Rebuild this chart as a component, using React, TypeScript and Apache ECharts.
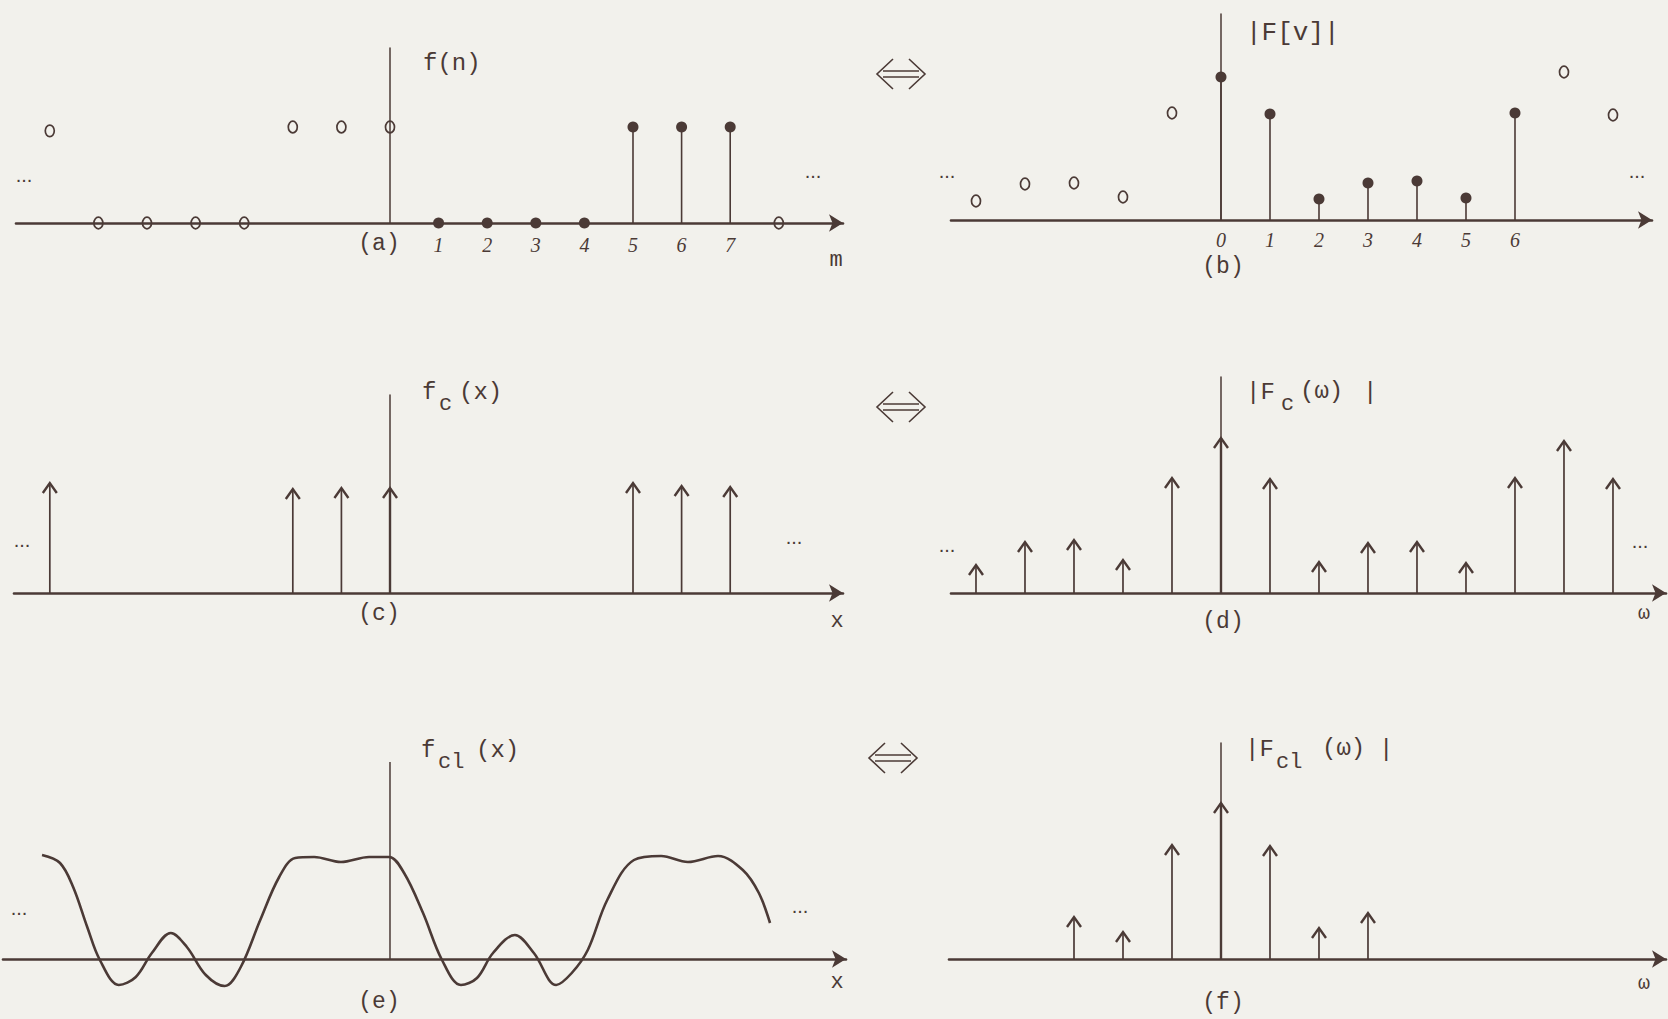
import React, { useEffect, useRef } from 'react';
import * as echarts from 'echarts';

const INK = '#4b3a36';
const BG = '#f2f1ec';
const MONO = 'Liberation Mono';

// (a) f(n): sample index, value, filled(1)/open(0)
const aN = [-7, -6, -5, -4, -3, -2, -1, 0, 1, 2, 3, 4, 5, 6, 7, 8];
const aVal = [0.96, 0, 0, 0, 0, 1, 1, 1, 0, 0, 0, 0, 1, 1, 1, 0];
const aFilled = [0, 0, 0, 0, 0, 0, 0, 0, 1, 1, 1, 1, 1, 1, 1, 0];
const aTicks = [1, 2, 3, 4, 5, 6, 7];

// (b) |F[v]|
const bN = [-5, -4, -3, -2, -1, 0, 1, 2, 3, 4, 5, 6, 7, 8];
const bVal = [0.19, 0.36, 0.37, 0.23, 1.07, 1.43, 1.06, 0.21, 0.37, 0.39, 0.22, 1.07, 1.48, 1.05];
const bFilled = [0, 0, 0, 0, 0, 1, 1, 1, 1, 1, 1, 1, 0, 0];
const bTicks = [0, 1, 2, 3, 4, 5, 6];

// (c) fc(x) impulses
const cX = [-7, -2, -1, 0, 5, 6, 7];
const cVal = [1.1, 1.04, 1.05, 1.05, 1.1, 1.07, 1.06];

// (d) |Fc(w)| impulses
const dX = [-5, -4, -3, -2, -1, 0, 1, 2, 3, 4, 5, 6, 7, 8];
const dVal = [0.28, 0.51, 0.53, 0.33, 1.15, 1.55, 1.14, 0.31, 0.5, 0.51, 0.3, 1.15, 1.52, 1.14];

// (e) fcl(x) curve
const eX = [-7.16, -6.79, -6.52, -6.23, -5.97, -5.58, -5.23, -4.9, -4.51, -4.18, -3.79, -3.4, -3.07, -2.67, -2.28, -1.95, -1.56, -1.01, -0.43, -0.02, 0.29, 0.68, 1.07, 1.46, 1.79, 2.12, 2.57, 2.96, 3.42, 3.74, 4.07, 4.47, 5.02, 5.58, 6.13, 6.75, 7.26, 7.59, 7.82];
const eY = [1.04, 0.96, 0.72, 0.32, -0.01, -0.26, -0.18, 0.06, 0.26, 0.12, -0.16, -0.27, -0.08, 0.39, 0.82, 1.01, 1.02, 0.97, 1.02, 1.02, 0.86, 0.46, -0.01, -0.26, -0.19, 0.06, 0.24, 0.06, -0.26, -0.14, 0.09, 0.59, 0.99, 1.03, 0.97, 1.03, 0.89, 0.66, 0.36];

// (f) |Fcl(w)| impulses
const fX = [-3, -2, -1, 0, 1, 2, 3];
const fVal = [0.42, 0.27, 1.14, 1.56, 1.13, 0.31, 0.46];

// layout of the six panels (pixels) and their axis ranges
const panels = [
  { left: 16, top: 48, width: 827, height: 175, xMin: -7.695, xMax: 9.321, yMin: 0, yMax: 1.823 },
  { left: 951, top: 14, width: 701, height: 206, xMin: -5.51, xMax: 8.796, yMin: 0, yMax: 2.06 },
  { left: 14, top: 395, width: 829, height: 198, xMin: -7.737, xMax: 9.321, yMin: 0, yMax: 1.98 },
  { left: 951, top: 377, width: 715, height: 216, xMin: -5.51, xMax: 9.082, yMin: 0, yMax: 2.16 },
  { left: 3, top: 762, width: 843, height: 238, xMin: -7.963, xMax: 9.383, yMin: -0.41, yMax: 1.97 },
  { left: 949, top: 743, width: 717, height: 216, xMin: -5.551, xMax: 9.082, yMin: 0, yMax: 2.16 },
];

const stemItem = (params: any, api: any) => {
  const x = api.value(0);
  const v = api.value(1);
  const filled = api.value(2);
  const p0 = api.coord([x, 0]);
  const p1 = api.coord([x, v]);
  const children: any[] = [];
  if (filled && v > 0) {
    children.push({ type: 'line', shape: { x1: p0[0], y1: p0[1], x2: p1[0], y2: p1[1] }, style: { stroke: INK, lineWidth: 1.6 } });
  }
  if (filled) {
    children.push({ type: 'circle', shape: { cx: p1[0], cy: p1[1], r: 5.5 }, style: { fill: INK } });
  } else {
    children.push({ type: 'ellipse', shape: { cx: p1[0], cy: p1[1], rx: 4.5, ry: 5.8 }, style: { fill: 'none', stroke: INK, lineWidth: 1.7 } });
  }
  return { type: 'group', children };
};

const arrowItem = (params: any, api: any) => {
  const x = api.value(0);
  const v = api.value(1);
  const p0 = api.coord([x, 0]);
  const p1 = api.coord([x, v]);
  return {
    type: 'group',
    children: [
      { type: 'line', shape: { x1: p0[0], y1: p0[1], x2: p1[0], y2: p1[1] }, style: { stroke: INK, lineWidth: x === 0 ? 2.4 : 1.7 } },
      {
        type: 'polyline',
        shape: { points: [[p1[0] - 7, p1[1] + 10], [p1[0], p1[1]], [p1[0] + 7, p1[1] + 10]] },
        style: { stroke: INK, lineWidth: 2.4, fill: null },
      },
    ],
  };
};

const txt = (text: string, x: number, y: number, fontSize = 24, align = 'left', extra: any = {}) => ({
  type: 'text',
  x,
  y,
  style: { text, fill: INK, fontSize, fontFamily: MONO, align, verticalAlign: 'middle', ...extra },
});

const dots = (x: number, y: number) => txt('...', x, y, 20, 'center', { fontFamily: 'Liberation Sans' });

const dblArrow = (cx: number, cy: number) => ({
  type: 'group',
  x: cx,
  y: cy,
  children: [
    { type: 'polyline', shape: { points: [[-8, -15], [-24, 0], [-8, 15]] }, style: { stroke: INK, lineWidth: 1.6, fill: null } },
    { type: 'polyline', shape: { points: [[8, -15], [24, 0], [8, 15]] }, style: { stroke: INK, lineWidth: 1.6, fill: null } },
    { type: 'line', shape: { x1: -18, y1: -3, x2: 18, y2: -3 }, style: { stroke: INK, lineWidth: 1.6 } },
    { type: 'line', shape: { x1: -18, y1: 3, x2: 18, y2: 3 }, style: { stroke: INK, lineWidth: 1.6 } },
  ],
});

export default function App() {
  const ref = useRef<HTMLDivElement>(null);
  useEffect(() => {
    if (!ref.current) return;
    const chart = echarts.init(ref.current, null, { renderer: 'svg' });
    const tickLabel = (vals: number[], margin: number) => ({
      show: true,
      customValues: vals,
      margin,
      color: INK,
      fontSize: 20,
      fontStyle: 'italic',
      fontFamily: 'Liberation Serif',
      formatter: (v: number) => String(v),
    });
    const option: any = {
      animation: false,
      backgroundColor: BG,
      grid: panels.map((p) => ({ left: p.left, top: p.top, width: p.width, height: p.height, containLabel: false })),
      xAxis: panels.map((p, i) => ({
        type: 'value',
        gridIndex: i,
        min: p.xMin,
        max: p.xMax,
        axisLine: { show: true, onZero: true, symbol: ['none', 'arrow'], symbolSize: [13, 14], lineStyle: { color: INK, width: 2.6 } },
        axisTick: { show: false },
        splitLine: { show: false },
        axisLabel: i === 0 ? tickLabel(aTicks, 12) : i === 1 ? tickLabel(bTicks, 10) : { show: false },
      })),
      yAxis: panels.map((p, i) => ({
        type: 'value',
        gridIndex: i,
        min: p.yMin,
        max: p.yMax,
        axisLine: { show: i !== 4, onZero: true, lineStyle: { color: INK, width: 1.5 } },
        axisTick: { show: false },
        splitLine: { show: false },
        axisLabel: { show: false },
      })),
      series: [
        { type: 'custom', name: 'f(n)', xAxisIndex: 0, yAxisIndex: 0, clip: false, renderItem: stemItem, encode: { x: 0, y: 1 }, data: aN.map((n, i) => [n, aVal[i], aFilled[i]]) },
        { type: 'custom', name: '|F[v]|', xAxisIndex: 1, yAxisIndex: 1, clip: false, renderItem: stemItem, encode: { x: 0, y: 1 }, data: bN.map((n, i) => [n, bVal[i], bFilled[i]]) },
        { type: 'custom', name: 'fc(x)', xAxisIndex: 2, yAxisIndex: 2, clip: false, renderItem: arrowItem, encode: { x: 0, y: 1 }, data: cX.map((n, i) => [n, cVal[i]]) },
        { type: 'custom', name: '|Fc(w)|', xAxisIndex: 3, yAxisIndex: 3, clip: false, renderItem: arrowItem, encode: { x: 0, y: 1 }, data: dX.map((n, i) => [n, dVal[i]]) },
        {
          type: 'line', name: 'fcl(x)', xAxisIndex: 4, yAxisIndex: 4, smooth: 0.35, showSymbol: false, symbol: 'none',
          lineStyle: { color: INK, width: 2.6 }, data: eX.map((x, i) => [x, eY[i]]),
        },
        {
          type: 'line', name: 'axis-e', xAxisIndex: 4, yAxisIndex: 4, showSymbol: false, symbol: 'none',
          lineStyle: { color: INK, width: 1.5 }, data: [[0, 0], [0, panels[4].yMax]],
        },
        { type: 'custom', name: '|Fcl(w)|', xAxisIndex: 5, yAxisIndex: 5, clip: false, renderItem: arrowItem, encode: { x: 0, y: 1 }, data: fX.map((n, i) => [n, fVal[i]]) },
      ],
      graphic: [
        // (a)
        txt('f(n)', 423, 63),
        txt('(a)', 379, 244, 23, 'center'),
        txt('m', 836, 260, 22, 'center'),
        dots(24, 175), dots(813, 171),
        // (b)
        txt('|F[v]|', 1246, 33, 26),
        txt('(b)', 1223, 267, 23, 'center'),
        dots(947, 171), dots(1637, 171),
        // (c)
        txt('f', 422, 392), txt('c', 439, 404, 22), txt('(x)', 459, 392),
        txt('(c)', 379, 614, 23, 'center'),
        txt('x', 837, 621, 22, 'center'),
        dots(22, 540), dots(794, 537),
        // (d)
        txt('|F', 1246, 392), txt('c', 1281, 404, 22), txt('(ω)', 1300, 391), txt('|', 1363, 392),
        txt('(d)', 1223, 622, 23, 'center'),
        txt('ω', 1644, 613, 20, 'center'),
        dots(947, 545), dots(1640, 541),
        // (e)
        txt('f', 421, 750), txt('cl', 438, 762, 22), txt('(x)', 476, 750),
        txt('(e)', 379, 1002, 23, 'center'),
        txt('x', 837, 982, 22, 'center'),
        dots(19, 908), dots(800, 906),
        // (f)
        txt('|F', 1245, 749), txt('cl', 1276, 762, 22), txt('(ω)', 1322, 748), txt('|', 1379, 749),
        txt('(f)', 1223, 1003, 23, 'center'),
        txt('ω', 1644, 983, 20, 'center'),
        // equivalence arrows
        dblArrow(901, 74), dblArrow(901, 407), dblArrow(893, 758),
      ],
    };
    chart.setOption(option);
    return () => chart.dispose();
  }, []);
  return <div ref={ref} style={{ position: 'absolute', left: 0, top: 0, width: 1668, height: 1019 }} />;
}
